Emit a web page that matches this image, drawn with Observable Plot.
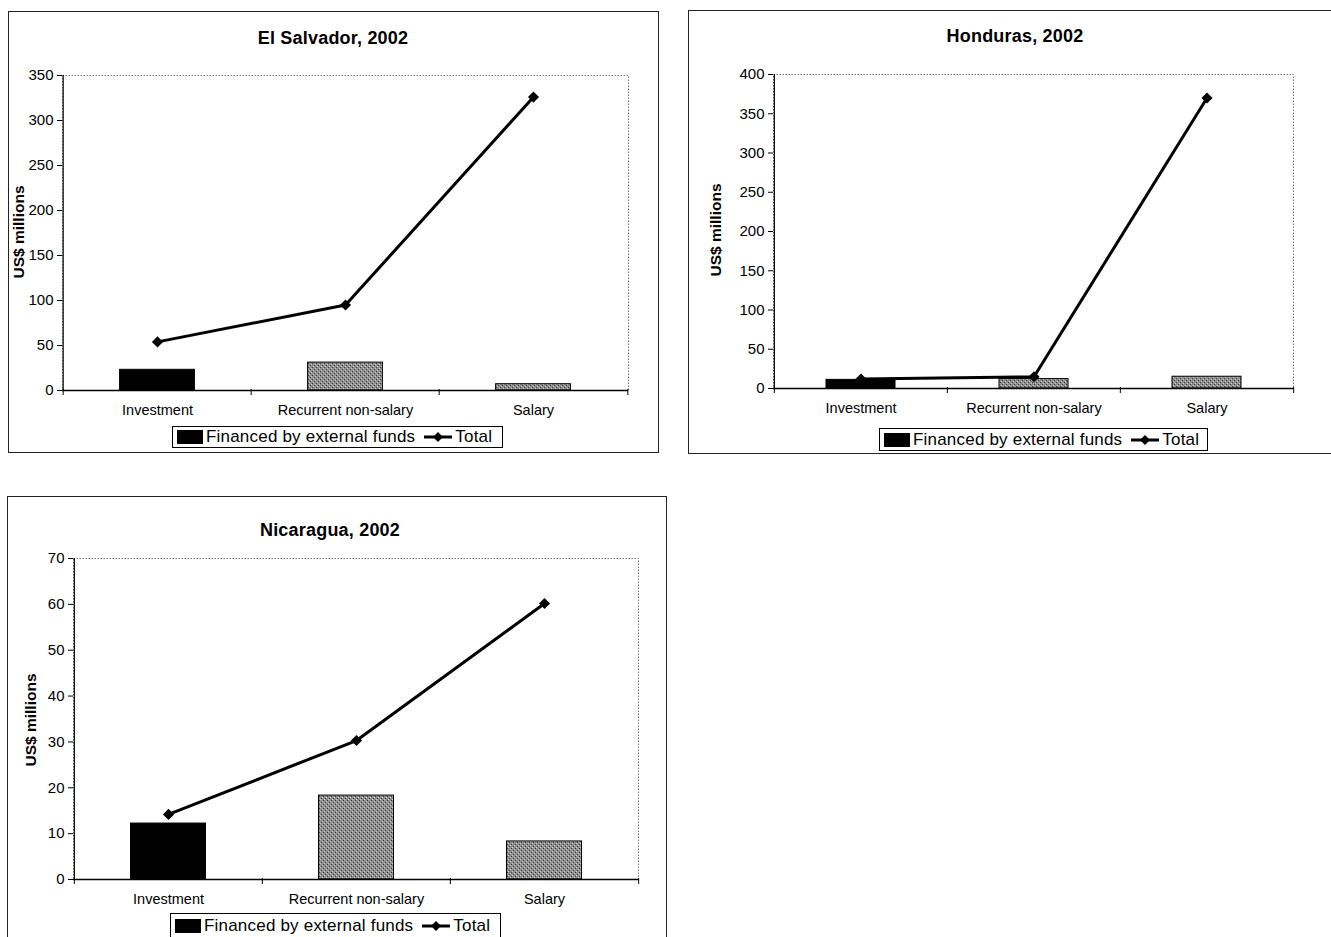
<!DOCTYPE html>
<html><head><meta charset="utf-8">
<script src="https://cdn.jsdelivr.net/npm/d3@7"></script>
<script src="https://cdn.jsdelivr.net/npm/@observablehq/plot@0.6"></script>
<style>
body{margin:0;background:#fff;font-family:"Liberation Sans",Arial,sans-serif;color:#000;}
#page{position:relative;width:1331px;height:937px;overflow:hidden;background:#fff;}
.box{position:absolute;box-sizing:border-box;border:1px solid #222;}
.chart{position:absolute;}
.title{position:absolute;font-weight:bold;font-size:18px;transform:translate(-50%,-50%);white-space:nowrap;letter-spacing:0.2px;}
.ylab{position:absolute;font-weight:bold;font-size:15.5px;transform:translate(-50%,-50%) rotate(-90deg);white-space:nowrap;}
.legend{position:absolute;border:1px solid #000;box-sizing:border-box;display:flex;align-items:center;font-size:17px;background:#fff;padding-left:4px;white-space:nowrap;letter-spacing:0.2px;}
.legend .sw{display:inline-block;width:26px;height:14px;background:#000;margin-right:3px;}
.legend svg{margin:0 2px 0 8px;}
</style></head>
<body><div id="page"></div>
<script>
// ---- data ----
const categories = ["Investment", "Recurrent non-salary", "Salary"];
const titles = ["El Salvador, 2002", "Honduras, 2002", "Nicaragua, 2002"];
const externalElSalvador = [23, 31, 7];
const totalElSalvador = [54, 95, 326];
const externalHonduras = [11, 12, 15];
const totalHonduras = [12, 15, 370];
const externalNicaragua = [12.2, 18.3, 8.3];
const totalNicaragua = [14.2, 30.3, 60.2];
const yTicksElSalvador = [0, 50, 100, 150, 200, 250, 300, 350];
const yTicksHonduras = [0, 50, 100, 150, 200, 250, 300, 350, 400];
const yTicksNicaragua = [0, 10, 20, 30, 40, 50, 60, 70];
const legendLabels = ["Financed by external funds", "Total"];
const yLabel = "US$ millions";

// ---- layout ----
const panels = [
  {title: titles[0], ext: externalElSalvador, tot: totalElSalvador, ticks: yTicksElSalvador,
   box: {l: 8, t: 11, w: 651, h: 442}, svg: {l: 8, t: 11, w: 651, h: 442},
   m: {l: 54, r: 31, t: 64, b: 63}, titleXY: [333, 38], ylabXY: [19, 232], legend: {l: 172, t: 426, w: 331, h: 22}},
  {title: titles[1], ext: externalHonduras, tot: totalHonduras, ticks: yTicksHonduras,
   box: {l: 688, t: 10, w: 700, h: 444}, svg: {l: 688, t: 10, w: 643, h: 444},
   m: {l: 85, r: 38, t: 64, b: 66}, titleXY: [1015, 36], ylabXY: [716, 230], legend: {l: 879, t: 428, w: 329, h: 23}},
  {title: titles[2], ext: externalNicaragua, tot: totalNicaragua, ticks: yTicksNicaragua,
   box: {l: 7, t: 496, w: 660, h: 500}, svg: {l: 7, t: 496, w: 660, h: 441},
   m: {l: 66, r: 29, t: 62, b: 58}, titleXY: [330, 530], ylabXY: [31, 720], legend: {l: 170, t: 913, w: 331, h: 25}}
];

const page = document.getElementById("page");
const font = '"Liberation Sans", Arial, sans-serif';

function defsMark(id) {
  return () => {
    const defs = d3.create("svg:defs");
    const p = defs.append("pattern").attr("id", id).attr("patternUnits", "userSpaceOnUse")
      .attr("width", 4).attr("height", 4);
    p.append("rect").attr("width", 4).attr("height", 4).attr("fill", "#8e8e8e");
    p.append("rect").attr("x", 0).attr("y", 0).attr("width", 1).attr("height", 1).attr("fill", "#3a3a3a");
    p.append("rect").attr("x", 2).attr("y", 2).attr("width", 1).attr("height", 1).attr("fill", "#3a3a3a");
    p.append("rect").attr("x", 1).attr("y", 3).attr("width", 1).attr("height", 1).attr("fill", "#d0d0d0");
    p.append("rect").attr("x", 3).attr("y", 1).attr("width", 1).attr("height", 1).attr("fill", "#d0d0d0");
    return defs.node();
  };
}

panels.forEach((P, k) => {
  const box = document.createElement("div");
  box.className = "box";
  Object.assign(box.style, {left: P.box.l + "px", top: P.box.t + "px", width: P.box.w + "px", height: P.box.h + "px"});
  page.appendChild(box);

  const data = categories.map((c, i) => ({cat: c, ext: P.ext[i], tot: P.tot[i]}));
  const ymax = P.ticks[P.ticks.length - 1];
  const bw = (P.svg.w - P.m.l - P.m.r) / categories.length;
  const pid = "pat" + k;
  const chart = Plot.plot({
    width: P.svg.w, height: P.svg.h,
    marginLeft: P.m.l, marginRight: P.m.r, marginTop: P.m.t, marginBottom: P.m.b,
    style: {background: "none", fontFamily: font, fontSize: "15px", color: "#000"},
    x: {type: "band", domain: categories, padding: 0, axis: null},
    y: {domain: [0, ymax], axis: null},
    marks: [
      defsMark(pid),
      Plot.frame({stroke: "#777", strokeDasharray: "1.5,1.5"}),
      Plot.barY(data, {x: "cat", y: "ext", fill: (d, i) => i === 0 ? "#000" : `url(#${pid})`,
        stroke: "#000", strokeWidth: 1, insetLeft: bw * 0.3, insetRight: bw * 0.3}),
      Plot.ruleY([0], {stroke: "#000", strokeWidth: 1.5}),
      Plot.ruleX([categories[0]], {dx: -bw / 2, stroke: "#000", strokeWidth: 1.2}),
      Plot.ruleX(categories, {x: d => d, y1: 0, y2: 0, dx: -bw / 2, insetBottom: -5, insetTop: -1, stroke: "#000"}),
      Plot.ruleX([categories[categories.length - 1]], {y1: 0, y2: 0, dx: bw / 2, insetBottom: -5, insetTop: -1, stroke: "#000"}),
      Plot.axisY({ticks: P.ticks, tickSize: 5, tickPadding: 4, fontSize: 15, label: null, tickFormat: d => String(d)}),
      Plot.axisX({tickSize: 0, tickPadding: 14, fontSize: 14.5, label: null}),
      Plot.lineY(data, {x: "cat", y: "tot", stroke: "#000", strokeWidth: 3}),
      Plot.dot(data, {x: "cat", y: "tot", symbol: "diamond2", r: 5, fill: "#000", stroke: "none"})
    ]
  });
  chart.classList.add("chart");
  Object.assign(chart.style, {left: P.svg.l + "px", top: P.svg.t + "px"});
  page.appendChild(chart);

  const t = document.createElement("div");
  t.className = "title"; t.textContent = P.title;
  t.style.left = P.titleXY[0] + "px"; t.style.top = P.titleXY[1] + "px";
  page.appendChild(t);

  const yl = document.createElement("div");
  yl.className = "ylab"; yl.textContent = yLabel;
  yl.style.left = P.ylabXY[0] + "px"; yl.style.top = P.ylabXY[1] + "px";
  page.appendChild(yl);

  const lg = document.createElement("div");
  lg.className = "legend";
  Object.assign(lg.style, {left: P.legend.l + "px", top: P.legend.t + "px", width: P.legend.w + "px", height: P.legend.h + "px"});
  lg.innerHTML = `<span class="sw"></span><span>${legendLabels[0]}</span>` +
    `<svg width="30" height="12"><line x1="1" y1="6" x2="29" y2="6" stroke="#000" stroke-width="3"/>` +
    `<path d="M15,1 L20,6 L15,11 L10,6 Z" fill="#000"/></svg><span>${legendLabels[1]}</span>`;
  page.appendChild(lg);
});
</script></body></html>
